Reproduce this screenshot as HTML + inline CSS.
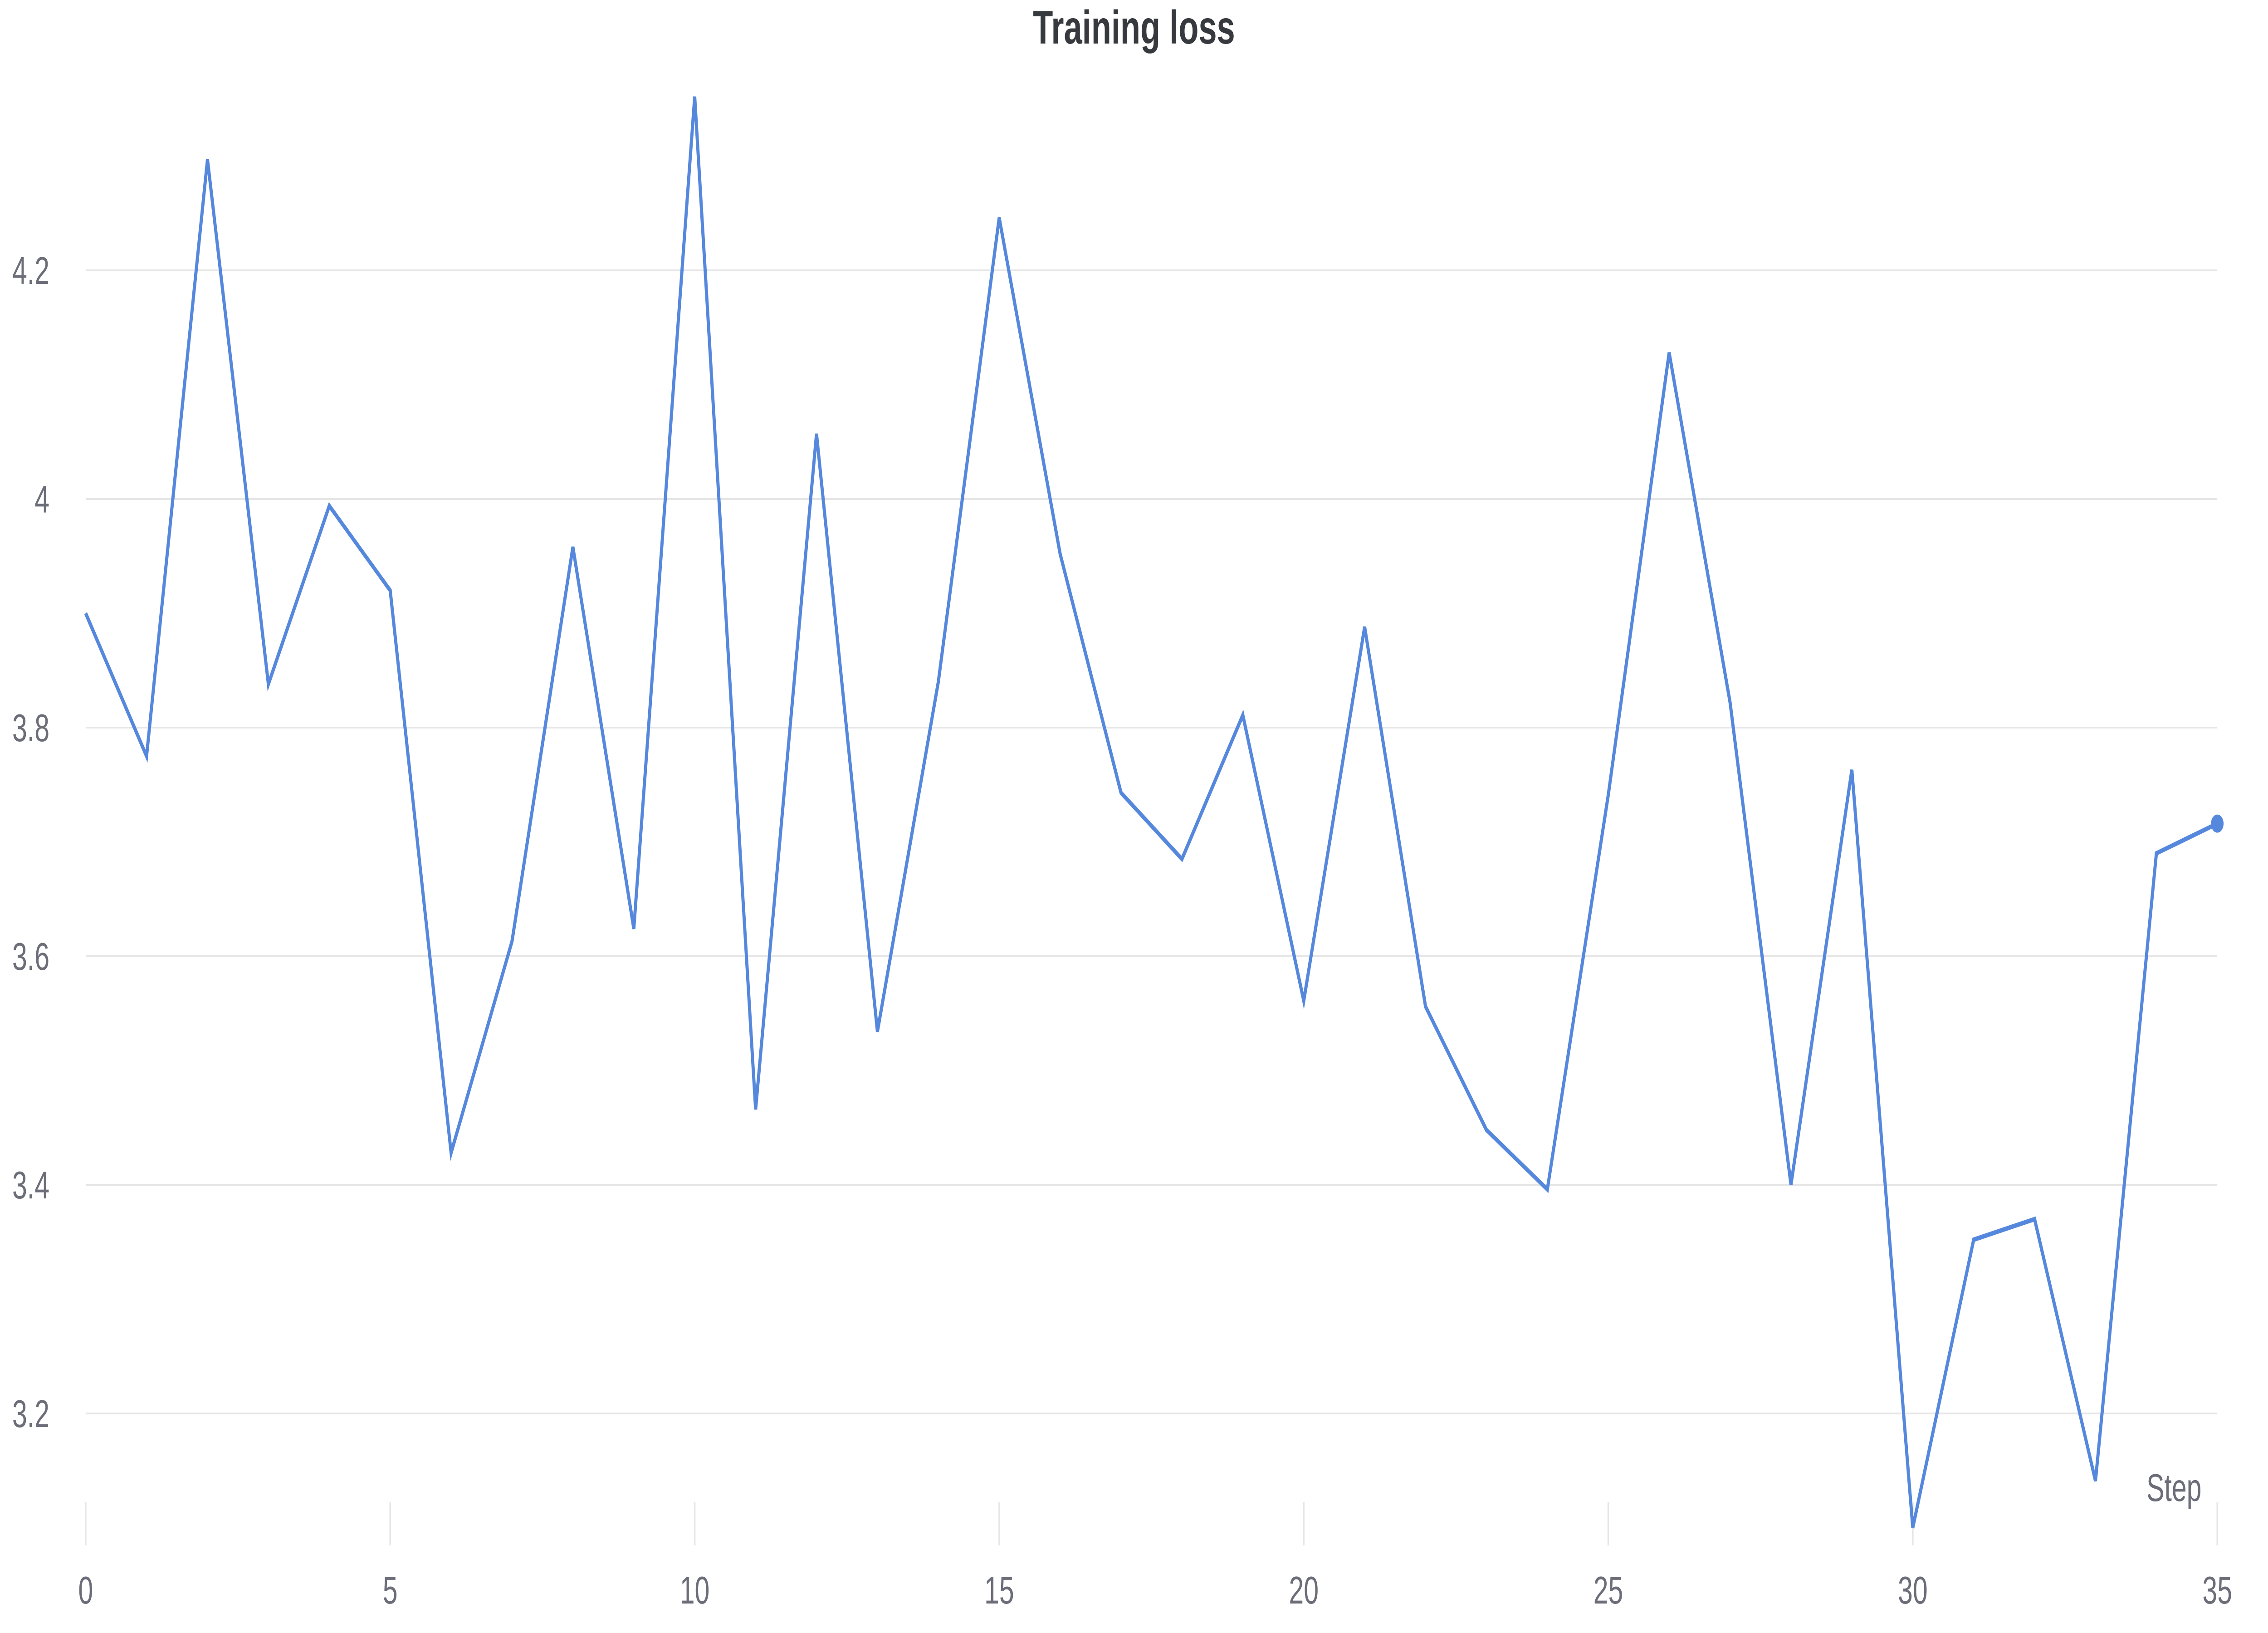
<!DOCTYPE html>
<html><head><meta charset="utf-8"><style>
html,body{margin:0;padding:0;background:#fff;overflow:hidden;width:100%;height:100%;}
svg{display:block;width:100vw;height:100vh;}
text{font-family:"Liberation Sans",Arial,sans-serif;}
</style></head><body>
<svg id="chart" viewBox="0 0 7200 3600" preserveAspectRatio="none" xmlns="http://www.w3.org/2000/svg">
<rect width="7200" height="3600" fill="#fff"/>
<text x="3600" y="96" text-anchor="middle" font-weight="bold" font-size="104" fill="#36393d">Training loss</text>
<g id="grid"></g>
<g id="yaxis"></g>
<g id="xaxis"></g>
<text x="6989" y="3309" text-anchor="end" font-size="85" fill="#6b6d78">Step</text>
<g id="series"></g>
</svg>
<script>
const steps = [0,1,2,3,4,5,6,7,8,9,10,11,12,13,14,15,16,17,18,19,20,21,22,23,24,25,26,27,28,29,30,31,32,33,34,35];
const lossValues = [3.90,3.775,4.297,3.838,3.994,3.92,3.428,3.613,3.958,3.624,4.352,3.466,4.057,3.534,3.84,4.246,3.952,3.743,3.685,3.811,3.561,3.888,3.556,3.448,3.396,3.741,4.128,3.822,3.40,3.763,3.10,3.352,3.37,3.141,3.69,3.716];
const yTicks = [3.2,3.4,3.6,3.8,4.0,4.2];
const yTickLabels = ["3.2","3.4","3.6","3.8","4","4.2"];
const xTicks = [0,5,10,15,20,25,30,35];

const NS = "http://www.w3.org/2000/svg";
const X0 = 272, X1 = 7039, XMIN = 0, XMAX = 35;
const YREF = 4.2, YREFPX = 596, YPERUNIT = 2520;
function xs(v){ return X0 + (v - XMIN) / (XMAX - XMIN) * (X1 - X0); }
function ys(v){ return YREFPX + (YREF - v) * YPERUNIT; }
function mk(tag, attrs, parent){
  const el = document.createElementNS(NS, tag);
  for (const k in attrs) el.setAttribute(k, attrs[k]);
  parent.appendChild(el);
  return el;
}
const grid = document.getElementById('grid');
const yaxis = document.getElementById('yaxis');
const xaxis = document.getElementById('xaxis');
const series = document.getElementById('series');

yTicks.forEach((t, i) => {
  const ln = mk('line', {x1: X0, x2: X1, y1: ys(t), y2: ys(t), stroke: '#e6e6e6', 'stroke-width': 4}, grid);
  
  
  const tx = mk('text', {x: 157, y: ys(t) + 30, 'text-anchor': 'end', 'font-size': 85, fill: '#6b6d78'}, yaxis);
  tx.textContent = yTickLabels[i];
  
  
});
xTicks.forEach(t => {
  const ln = mk('line', {x1: xs(t), x2: xs(t), y1: 3312, y2: 3407, stroke: '#e6e6e6', 'stroke-width': 5}, xaxis);
  
  
  const tx = mk('text', {x: xs(t), y: 3535, 'text-anchor': 'middle', 'font-size': 85, fill: '#6b6d78'}, xaxis);
  tx.textContent = String(t);
  
  
});
const pts = steps.map((s, i) => xs(s).toFixed(1) + ',' + ys(lossValues[i]).toFixed(1)).join(' ');
const pl = mk('polyline', {points: pts, fill: 'none', stroke: '#5588dd', 'stroke-width': 10, 'stroke-linejoin': 'miter'}, series);


const last = steps.length - 1;
const dot = mk('circle', {cx: xs(steps[last]), cy: ys(lossValues[last]), r: 20, fill: '#5588dd'}, series);


</script>
</body></html>
